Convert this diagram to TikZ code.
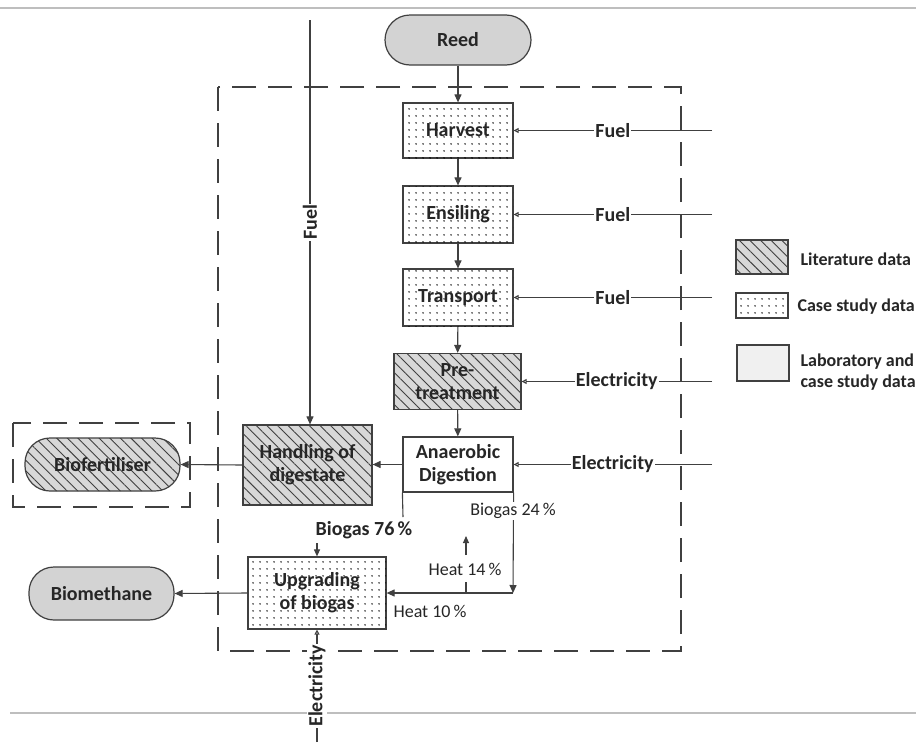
\documentclass[tikz,border=0pt]{standalone}
\usepackage{fontspec}
\setmainfont{Carlito}
\usetikzlibrary{arrows.meta,patterns.meta}
\definecolor{linec}{HTML}{404040}
\definecolor{pillc}{HTML}{D3D3D3}
\definecolor{hatchc}{HTML}{D8D8D8}
\definecolor{labc}{HTML}{F0F0F0}
\definecolor{rulec}{HTML}{BEBEBE}
\begin{document}
\begin{tikzpicture}[x=1pt,y=-1pt,
  bigfont/.style={font=\bfseries\fontsize{20}{23}\selectfont},
  box/.style={draw=linec,line width=1.2pt,align=center,inner sep=0pt,bigfont,text=black!85},
  dotbox/.style={box,fill=white,postaction={pattern={Dots[radius=0.85pt,distance=6.5pt]},pattern color=black}},
  hatchbox/.style={box,fill=hatchc,postaction={pattern={Lines[angle=-45,distance=7.5pt,line width=0.9pt]},pattern color=linec}},
  pill/.style={box,rounded corners=25pt,fill=pillc},
  lbl/.style={fill=white,inner sep=1pt,bigfont,text=black!85},
  slbl/.style={fill=white,inner sep=1pt,font=\fontsize{18}{21}\selectfont,text=black!85},
  leg/.style={font=\bfseries\fontsize{18}{21}\selectfont,text=black!85,align=left,anchor=west},
  flow/.style={draw=linec,line width=1.1pt,-{Triangle[width=7pt,length=8pt]}},
  feed/.style={draw=linec,line width=1.1pt,-{Triangle[open,width=5pt,length=5pt]}},
  plain/.style={draw=linec,line width=1.1pt},
  dashbox/.style={draw=linec,line width=1.3pt,dash pattern=on 24pt off 12pt},
  rule/.style={draw=rulec,line width=1.5pt}
]
\useasboundingbox (0,0) rectangle (916,742);
\fill[white] (0,0) rectangle (916,742);

% rules
\draw[rule] (0,8) -- (916,8);
\draw[rule] (10,713) -- (916,713);

% dashed frames
\draw[dashbox] (218,87) rectangle (681,651);
\draw[dashbox] (13,423) rectangle (190,507);

% nodes
\node[pill,minimum width=146pt,minimum height=50pt] (reed) at (458,40) {Reed};
\node[dotbox,minimum width=110pt,minimum height=55pt] (harvest) at (458,130.5) {Harvest};
\node[dotbox,minimum width=110pt,minimum height=57pt] (ensil) at (458,214.5) {Ensiling};
\node[dotbox,minimum width=110pt,minimum height=57pt] (trans) at (458,297.5) {Transport};
\node[hatchbox,minimum width=127pt,minimum height=56pt] (pre) at (457.5,381.5) {Pre-\\treatment};
\node[box,fill=white,minimum width=110pt,minimum height=55pt] (ad) at (458,464.5) {Anaerobic\\Digestion};
\node[hatchbox,minimum width=129pt,minimum height=80pt] (hand) at (307.5,465) {Handling of\\digestate};
\node[pill,hatchbox,rounded corners=25pt,minimum width=155pt,minimum height=53pt] (biof) at (102.5,464.5) {Biofertiliser};
\node[dotbox,minimum width=138pt,minimum height=72pt] (upg) at (317,593) {Upgrading\\of biogas};
\node[pill,minimum width=145pt,minimum height=53pt] (biom) at (101.5,593.5) {Biomethane};

% main flow
\draw[flow] (reed) -- (harvest);
\draw[flow] (harvest) -- (ensil);
\draw[flow] (ensil) -- (trans);
\draw[flow] (trans) -- (pre);
\draw[flow] (pre) -- (ad);
\draw[flow] (ad.west) -- (hand.east |- ad.west);
\draw[flow] (hand.west) -- (biof.east);
\draw[flow] (upg.west) -- (biom.east);

% external inputs
\coordinate (f1) at (712,130.5);
\coordinate (f2) at (712,214.5);
\coordinate (f3) at (712,297.5);
\coordinate (e1) at (712,381.5);
\coordinate (e2) at (712,464.5);
\draw[feed] (f1) -- node[lbl]{Fuel} (harvest.east);
\draw[feed] (f2) -- node[lbl]{Fuel} (ensil.east);
\draw[feed] (f3) -- node[lbl]{Fuel} (trans.east);
\draw[feed] (e1) -- node[lbl]{Electricity} (pre.east);
\draw[feed] (e2) -- node[lbl]{Electricity} (ad.east);

\coordinate (ftop) at (310,20);
\draw[flow] (ftop) -- node[lbl,rotate=90]{Fuel} (ftop |- hand.north);
\coordinate (ebot) at (317,742);
\draw[feed] (ebot) -- node[lbl,rotate=90]{Electricity} (upg.south);

% biogas 76
\coordinate (b76a) at (403,517);
\draw[plain] (ad.south west) -- (b76a);
\node[lbl] (b76) at (364,530) {Biogas 76\,\%};
\coordinate (b76b) at (317,543);
\draw[draw=linec,line width=1.1pt,-{Triangle[width=6pt,length=7pt]}] (b76b) -- (upg.north);

% biogas 24
\coordinate (b24c) at (513,593);
\draw[flow] (ad.south east) -- (b24c);
\node[slbl] (b24) at (513,511) {Biogas 24\,\%};
\draw[flow] (b24c) -- (upg.east |- b24c);
\node[slbl,fill=none] (h10) at (430,611) {Heat 10\,\%};
\coordinate (h14a) at (466,593);
\coordinate (h14b) at (466,582);
\draw[plain] (h14a) -- (h14b);
\node[slbl,fill=none] (h14) at (465,569) {Heat 14\,\%};
\coordinate (h14c) at (466,555);
\coordinate (h14d) at (466,536);
\draw[draw=linec,line width=1.1pt,-{Triangle[width=6pt,length=7pt]}] (h14c) -- (h14d);

% legend
\node[hatchbox,minimum width=52pt,minimum height=34pt] (lit) at (762,257) {};
\node[dotbox,minimum width=52pt,minimum height=25pt] (cs) at (762,305.5) {};
\node[box,fill=labc,minimum width=52pt,minimum height=36pt] (lab) at (763,363) {};
\node[leg] at (797,259) {Literature data};
\node[leg] at (794,307) {Case study data};
\node[leg] at (797,372) {Laboratory and\\case study data};
\end{tikzpicture}
\end{document}
